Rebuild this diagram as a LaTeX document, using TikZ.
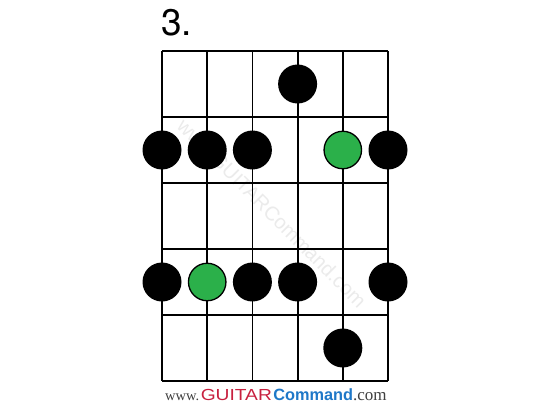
\documentclass[tikz,border=0pt]{standalone}
\usepackage{fontspec}
\setmainfont{Liberation Serif}
\setsansfont{Liberation Sans}
\newfontfamily\widesans[FakeStretch=1.2]{Liberation Sans}
\newfontfamily\titlefont{TeX Gyre Heros}
\definecolor{dotgreen}{HTML}{2BB04A}
\definecolor{gcred}{HTML}{C8203F}
\definecolor{gcblue}{HTML}{1F78C8}
\definecolor{gcgray}{HTML}{404040}
\tikzset{
  gridline/.style={line width=1.8pt, black},
  blackdot/.style={circle, fill=black, minimum size=39pt, inner sep=0pt},
  greendot/.style={circle, fill=dotgreen, draw=black, line width=1.3pt, minimum size=37.5pt, inner sep=0pt},
}
\begin{document}
\begin{tikzpicture}[x=1pt, y=-1pt]
\useasboundingbox (0,0) rectangle (550,407);
\fill[white] (0,0) rectangle (550,407);
% watermark
\node[rotate=-45, text=black!8, font=\sffamily\fontsize{20}{20}\selectfont, inner sep=0pt] (wm) at (272,213) {www.GUITARCommand.com};
% grid
\foreach \x in {162,207.2,252.4,297.6,342.8,388}
  \draw[gridline] (\x,51) -- (\x,381);
\foreach \y in {51,117,183,249,315,381}
  \draw[gridline] (162,\y) -- (388,\y);
% title
\node[anchor=base west, inner sep=0pt, font=\titlefont\fontsize{37}{37}\selectfont] (title) at (161,35) {3.};
% dots
\node[blackdot] (d14) at (297.6,84) {};
\node[blackdot] (d21) at (162,150) {};
\node[blackdot] (d22) at (207.2,150) {};
\node[blackdot] (d23) at (252.4,150) {};
\node[greendot] (d25) at (342.8,150) {};
\node[blackdot] (d26) at (388,150) {};
\node[blackdot] (d41) at (162,282) {};
\node[greendot] (d42) at (207.2,282) {};
\node[blackdot] (d43) at (252.4,282) {};
\node[blackdot] (d44) at (297.6,282) {};
\node[blackdot] (d46) at (388,282) {};
\node[blackdot] (d55) at (342.8,348) {};
% footer
\node[anchor=base west, inner sep=0pt] (footer) at (165,400) {\textcolor{gcgray}{\fontsize{14.5}{15}\selectfont www.}\kern1.5pt\textcolor{gcred}{\widesans\fontsize{16}{16}\selectfont GUITAR}\kern1.5pt\textcolor{gcblue}{\sffamily\bfseries\fontsize{16.3}{16}\selectfont Command}\textcolor{gcgray}{\fontsize{17}{16}\selectfont .com}};
\end{tikzpicture}
\end{document}
